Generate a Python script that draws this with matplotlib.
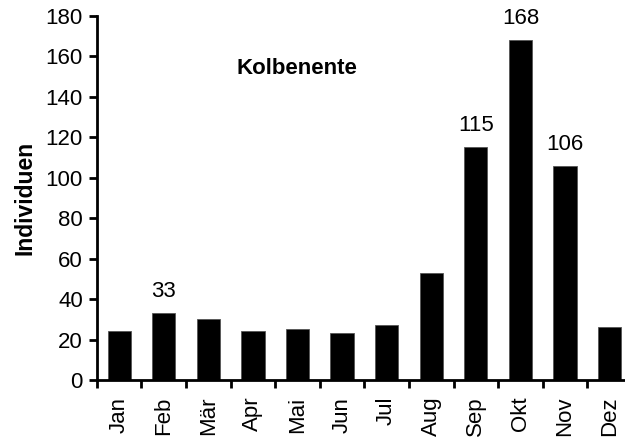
import matplotlib
matplotlib.use("Agg")
import matplotlib.pyplot as plt
import numpy as np

months = ["Jan", "Feb", "Mär", "Apr", "Mai", "Jun", "Jul", "Aug", "Sep", "Okt", "Nov", "Dez"]
values = [24, 33, 30, 24, 25, 23, 27, 53, 115, 168, 106, 26]
labelled = {"Feb": 33, "Sep": 115, "Okt": 168, "Nov": 106}
yticks = [0, 20, 40, 60, 80, 100, 120, 140, 160, 180]

plt.rcParams['font.family'] = ['Liberation Sans', 'DejaVu Sans']
FS = 16

fig = plt.figure(figsize=(6.25, 4.38), dpi=100)
ax = fig.add_axes([0.155, 0.1324, 0.856, 0.8311])

x = np.arange(len(months))
ax.bar(x, values, width=0.52, color='black', edgecolor='#555555', linewidth=0.6)

for i, m in enumerate(months):
    if m in labelled:
        ax.annotate(str(labelled[m]), (x[i], values[i]), xytext=(0, 8),
                    textcoords='offset points', ha='center', va='bottom', fontsize=FS)

ax.set_xlim(-0.5, len(months) - 0.5)
ax.set_ylim(0, 180)
ax.set_yticks(yticks)
ax.set_xticks(x)
ax.set_xticklabels(months, rotation=90, fontsize=FS)
ax.set_xticks(np.arange(len(months) + 1) - 0.5, minor=True)
ax.tick_params(axis='x', which='major', length=0, pad=12)
ax.tick_params(axis='x', which='minor', length=6, width=2, direction='out')
ax.tick_params(axis='y', length=6, width=2, direction='out', labelsize=FS, pad=4)

for s in ['top', 'right']:
    ax.spines[s].set_visible(False)
for s in ['left', 'bottom']:
    ax.spines[s].set_linewidth(2)

ax.set_ylabel("Individuen", fontsize=16.5, fontweight='bold', labelpad=7)
fig.text(297 / 625, 1 - 68 / 438, "Kolbenente", fontsize=FS, fontweight='bold',
         ha='center', va='center')

fig.savefig("out.png", dpi=100)
